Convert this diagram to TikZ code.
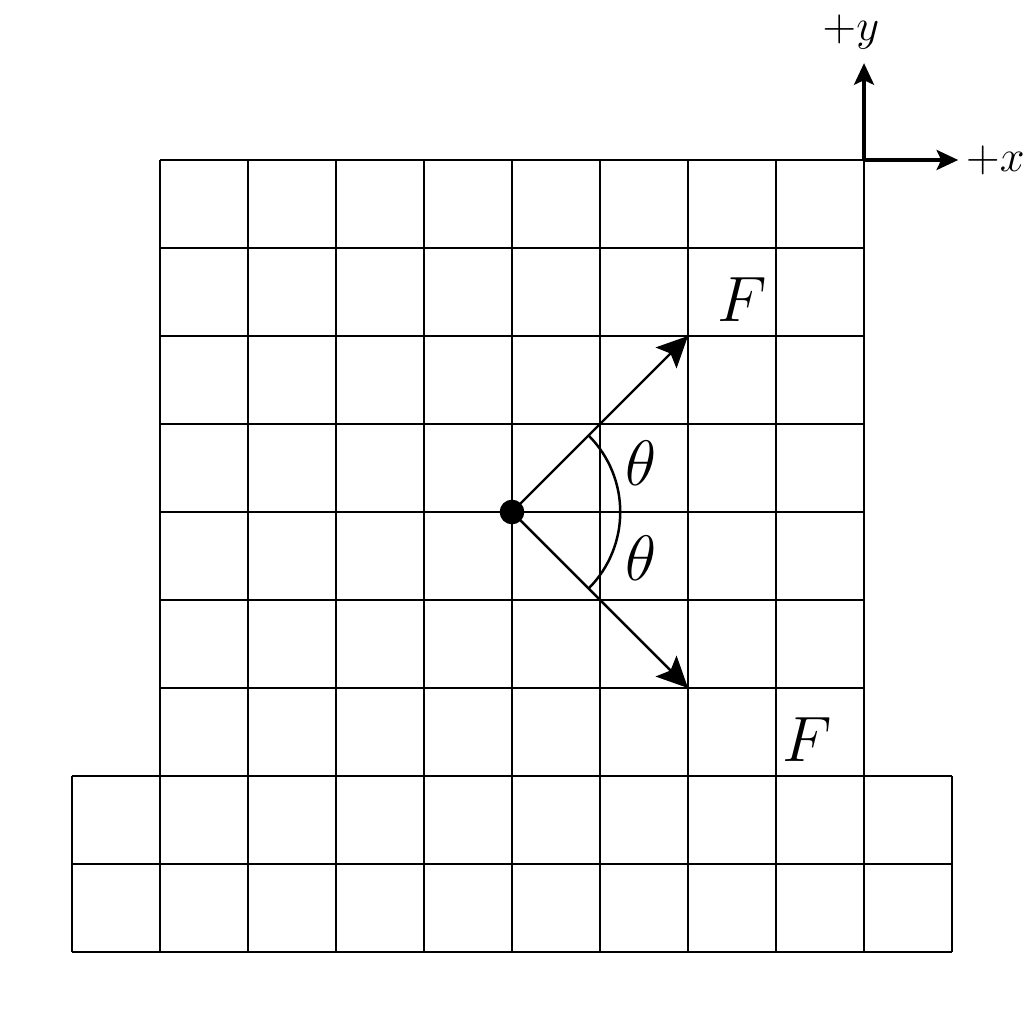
\documentclass[tikz,border=0pt]{standalone}
\usepackage{amsmath}
\usepackage{amssymb}
\usetikzlibrary{arrows.meta,positioning}

\begin{document}
\begin{tikzpicture}[x=1cm,y=1cm,
		blockgrid/.style={line width=0.65pt},
		force/.style={-{Stealth[length=10pt,width=9.5pt,inset=2pt]},line width=0.8pt},
		axisarrow/.style={-{Stealth[length=7pt,width=6.5pt,inset=1.5pt]},line width=1pt},
		biglabel/.style={font=\huge,inner sep=0pt},
		axlabel/.style={font=\Large,inner sep=0pt}]
	\useasboundingbox (-0.818,-0.818) rectangle (10.818,10.818);
	
	% the blocks
	\draw[blockgrid] (1,2) grid (9,9);
	\draw[blockgrid] (0,0) grid (10,2);
	
	% point and forces
	\node[circle,fill,inner sep=0pt,minimum size=0.28cm] (o) at (5,5) {};
	\coordinate (up) at (7,7);
	\coordinate (down) at (7,3);
	\draw[force] (o.center) -- (up);
	\draw[force] (o.center) -- (down);
	\draw[line width=0.8pt] (o.center) ++(45:1.23) arc (45:-45:1.23);
	
	\node[biglabel] (Fa) at (7.61,7.41) {\(F\)};
	\node[biglabel] (Fb) at (8.35,2.41) {\(F\)};
	\node[biglabel] (ta) at (6.47,5.55) {\(\theta\)};
	\node[biglabel] (tb) at (6.47,4.48) {\(\theta\)};
	
	% axes
	\coordinate (ax) at (9,9);
	\coordinate (ytip) at (9,10.1);
	\coordinate (xtip) at (10.07,9);
	\draw[axisarrow] (ax) -- (ytip);
	\draw[axisarrow] (ax) -- (xtip);
	\node[axlabel] (ylab) at (8.85,10.45) {\(+y\)};
	\node[axlabel,right=0.08cm of xtip] (xlab) {\(+x\)};
\end{tikzpicture}
\end{document}
